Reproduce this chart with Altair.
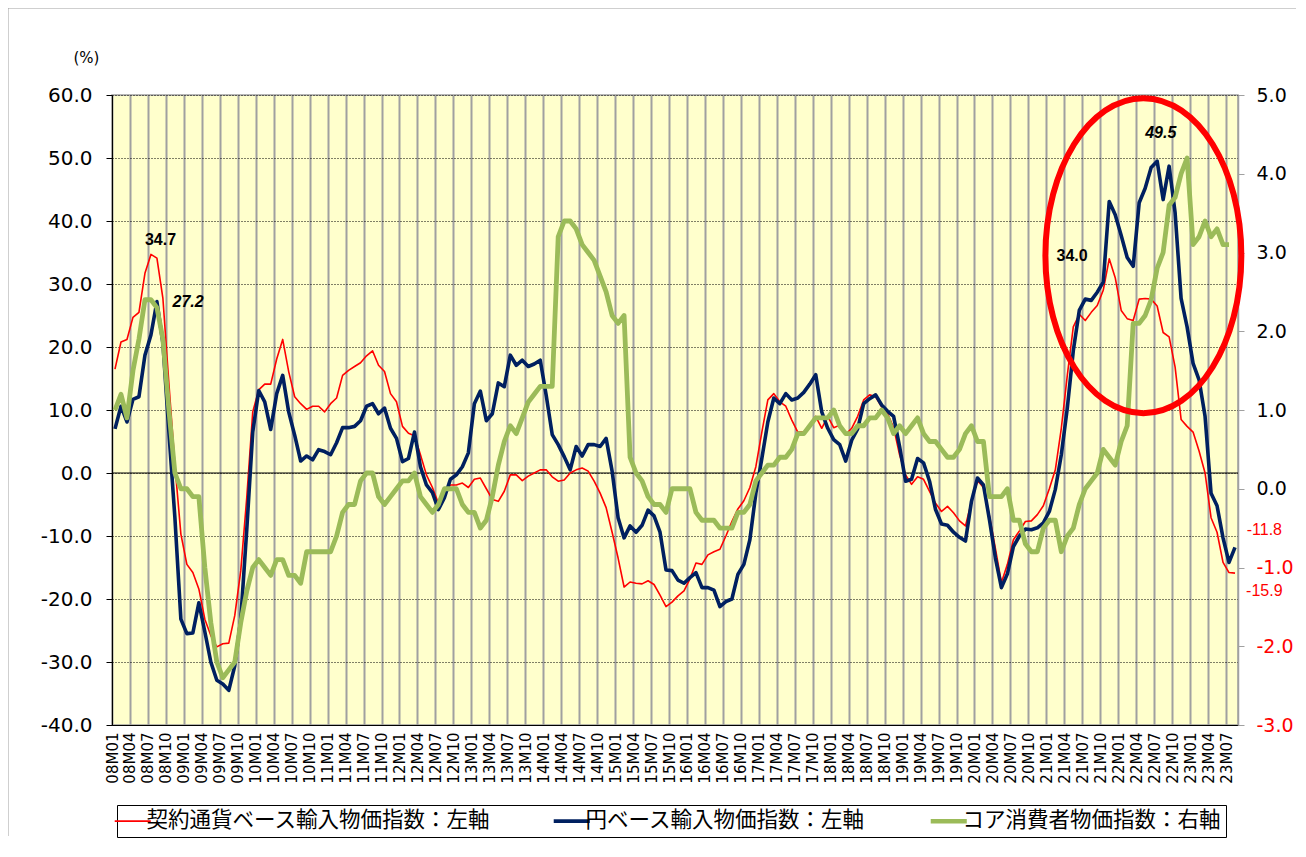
import altair as alt
import pandas as pd

NAMES = ["契約通貨ベース輸入物価指数：左軸", "円ベース輸入物価指数：左軸", "コア消費者物価指数：右軸"]
COLORS = ["#FF0000", "#002060", "#9BBB59"]

# x-axis tick labels (every 3 months, 2008M01 .. 2023M07)
TICK_LABELS = [f"{y:02d}M{m:02d}" for y in range(8, 24) for m in (1, 4, 7, 10)][:63]

# 契約通貨ベース輸入物価指数 (YoY %, left axis), 2008M01 .. 2023M08
RED = [
    16.5, 20.8, 21.2, 24.7, 25.5, 31.7, 34.7, 34.1, 27.7, 14.2,
    1.3, -9.7, -14.5, -15.8, -18.4, -23.2, -25.8, -27.6, -27.1, -27.0,
    -22.6, -15.5, -3.9, 9.7, 13.2, 14.1, 14.1, 18.1, 21.2, 16.1,
    12.1, 11.0, 10.1, 10.6, 10.6, 9.7, 11.0, 11.9, 15.5, 16.3,
    16.9, 17.5, 18.6, 19.4, 17.1, 16.1, 12.6, 11.3, 7.4, 6.3,
    5.9, 2.9, -0.3, -2.3, -4.8, -3.2, -1.9, -1.9, -1.6, -2.3,
    -1.0, -0.8, -2.5, -4.2, -4.5, -2.9, -0.3, -0.3, -1.2, -0.5,
    0.0, 0.5, 0.5, -0.6, -1.3, -1.1, 0.0, 0.5, 0.8, 0.3,
    -1.3, -3.2, -5.5, -9.4, -13.5, -18.1, -17.3, -17.5, -17.6, -17.1,
    -17.7, -19.4, -21.2, -20.5, -19.5, -18.7, -16.8, -14.3, -14.5, -13.0,
    -12.5, -12.1, -10.0, -7.7, -5.7, -4.4, -2.3, 1.0, 6.5, 11.6,
    12.6, 11.3, 10.6, 8.4, 6.5, 6.5, 7.7, 9.0, 7.1, 9.0,
    7.2, 7.6, 6.1, 7.1, 9.0, 11.6, 12.4, 12.1, 10.5, 9.4,
    7.2, 2.9, -0.3, -1.8, -0.6, -1.0, -2.9, -4.8, -6.1, -5.3,
    -6.3, -7.6, -8.4, -4.5, -1.2, -2.3, -6.8, -12.0, -17.4, -14.5,
    -10.6, -9.2, -7.7, -7.6, -6.6, -5.2, -2.5, 0.5, 7.1, 15.5,
    23.2, 25.2, 24.2, 25.5, 26.6, 29.0, 34.0, 31.0, 25.8, 24.5,
    24.2, 27.6, 27.7, 27.6, 26.5, 22.3, 21.6, 16.8, 8.5, 7.4,
    6.5, 3.5, 0.0, -7.1, -9.4, -14.2, -15.8, -15.9,
]

# 円ベース輸入物価指数 (YoY %, left axis), 2008M01 .. 2023M08
BLUE = [
    7.0, 10.6, 8.1, 11.7, 12.1, 18.7, 21.9, 27.2, 20.6, 6.5,
    -7.1, -23.2, -25.5, -25.4, -20.6, -25.2, -30.0, -32.9, -33.5, -34.5,
    -30.6, -23.2, -9.0, 6.5, 13.1, 11.3, 6.9, 12.6, 15.5, 9.7,
    6.0, 1.9, 2.7, 2.1, 3.7, 3.4, 2.9, 4.8, 7.2, 7.2,
    7.4, 8.3, 10.6, 11.0, 9.4, 10.3, 7.1, 5.5, 1.8, 2.3,
    6.5, 1.0, -1.9, -3.1, -5.8, -3.9, -1.0, -0.3, 1.0, 3.2,
    11.0, 13.0, 8.3, 9.4, 14.3, 13.7, 18.7, 17.1, 17.9, 16.9,
    17.3, 17.9, 12.3, 6.1, 4.5, 2.6, 0.5, 4.2, 2.7, 4.5,
    4.5, 4.2, 5.5, 0.3, -7.1, -10.3, -8.4, -9.4, -8.3, -5.9,
    -6.8, -9.4, -15.4, -15.5, -17.0, -17.5, -16.6, -15.8, -18.2, -18.2,
    -18.6, -21.2, -20.4, -20.0, -16.1, -14.5, -10.6, -3.2, 2.3, 8.1,
    11.9, 11.0, 12.6, 11.6, 11.9, 12.8, 14.1, 15.6, 9.7, 7.1,
    5.3, 4.5, 1.9, 5.2, 7.0, 11.0, 11.8, 12.4, 10.8, 9.8,
    9.0, 4.2, -1.3, -1.0, 2.3, 1.6, -1.3, -5.8, -8.1, -8.3,
    -9.4, -10.2, -10.8, -4.5, -0.8, -1.9, -7.4, -13.5, -18.2, -16.0,
    -11.7, -10.0, -8.9, -9.0, -8.7, -7.9, -6.1, -2.6, 2.9, 10.3,
    19.4, 25.8, 27.6, 27.4, 28.7, 30.3, 43.1, 41.0, 37.7, 34.2,
    32.8, 42.9, 45.2, 48.5, 49.5, 43.4, 48.7, 41.3, 27.7, 23.2,
    17.4, 14.8, 9.0, -3.2, -5.2, -10.3, -14.2, -11.8,
]

# コア消費者物価指数 (YoY %, right axis), as plotted (ends one month earlier)
GREEN = [
    1.0, 1.2, 0.9, 1.5, 1.9, 2.4, 2.4, 2.3, 1.9, 1.0,
    0.2, 0.0, 0.0, -0.1, -0.1, -1.0, -1.7, -2.2, -2.4, -2.3,
    -2.2, -1.7, -1.3, -1.0, -0.9, -1.0, -1.1, -0.9, -0.9, -1.1,
    -1.1, -1.2, -0.8, -0.8, -0.8, -0.8, -0.8, -0.6, -0.3, -0.2,
    -0.2, 0.1, 0.2, 0.2, -0.1, -0.2, -0.1, 0.0, 0.1, 0.1,
    0.2, -0.1, -0.2, -0.3, -0.2, 0.0, 0.0, 0.0, -0.2, -0.3,
    -0.3, -0.5, -0.4, -0.1, 0.3, 0.6, 0.8, 0.7, 0.9, 1.1,
    1.2, 1.3, 1.3, 1.3, 3.2, 3.4, 3.4, 3.3, 3.1, 3.0,
    2.9, 2.7, 2.5, 2.2, 2.1, 2.2, 0.4, 0.2, 0.1, -0.1,
    -0.2, -0.2, -0.3, 0.0, 0.0, 0.0, 0.0, -0.3, -0.4, -0.4,
    -0.4, -0.5, -0.5, -0.5, -0.3, -0.3, -0.2, 0.1, 0.2, 0.3,
    0.3, 0.4, 0.4, 0.5, 0.7, 0.7, 0.8, 0.9, 0.9, 0.9,
    1.0, 0.8, 0.7, 0.7, 0.8, 0.8, 0.9, 0.9, 1.0, 0.9,
    0.7, 0.8, 0.7, 0.8, 0.9, 0.7, 0.6, 0.6, 0.5, 0.4,
    0.4, 0.5, 0.7, 0.8, 0.6, 0.6, -0.1, -0.1, -0.1, 0.0,
    -0.4, -0.4, -0.7, -0.8, -0.8, -0.5, -0.4, -0.4, -0.8, -0.6,
    -0.5, -0.2, 0.0, 0.1, 0.2, 0.5, 0.4, 0.3, 0.6, 0.8,
    2.1, 2.1, 2.2, 2.4, 2.8, 3.0, 3.6, 3.7, 4.0, 4.2,
    3.1, 3.2, 3.4, 3.2, 3.3, 3.1, 3.1,
]

N_MONTHS = 188


def frame(values, name):
    return pd.DataFrame({"x": [i + 0.5 for i in range(len(values))],
                         "v": values, "s": [name] * len(values)})


df_red = frame(RED, NAMES[0])
df_blue = frame(BLUE, NAMES[1])
df_green = frame(GREEN, NAMES[2])

FONT = "Liberation Sans"
AXFONT = "DejaVu Sans"
label_array = "[" + ",".join(f"'{t}'" for t in TICK_LABELS) + "]"

xscale = alt.Scale(domain=[0, N_MONTHS], nice=False, zero=False)
xaxis = alt.Axis(values=list(range(0, 187, 3)), labelExpr=f"{label_array}[datum.value / 3]",
                 title=None, grid=True, gridColor="#A0A0A0", gridWidth=2, ticks=False,
                 labelAngle=270, labelPadding=7, labelFontSize=15, labelFont=AXFONT,
                 labelColor="#000000", labelOverlap=False, labelFlush=False,
                 domainColor="#000000", domainWidth=1.2)

yl_scale = alt.Scale(domain=[-40, 60], nice=False, zero=False)
yr_scale = alt.Scale(domain=[-3, 5], nice=False, zero=False)
fmt = "replace(format(datum.value, '.1f'), '\u2212', '-')"

yaxis_left = alt.Axis(values=list(range(-40, 61, 10)), labelExpr=fmt, title="(%)",
                      titleAngle=0, titleX=-26, titleY=-38, titleAlign="center",
                      titleBaseline="middle", titleFontSize=15, titleFontWeight="normal",
                      titleFont=AXFONT, titleColor="#000000",
                      grid=True, gridColor="#000000", gridDash=[1, 2], gridWidth=1,
                      tickSize=6, tickColor="#000000", domainColor="#000000",
                      labelFontSize=20, labelPadding=14, labelFont=AXFONT, labelColor="#000000")

yaxis_right = alt.Axis(orient="right", values=list(range(-3, 6)), labelExpr=fmt, title=None,
                       grid=False, tickSize=6, tickColor="#A0A0A0", domainColor="#A0A0A0",
                       domainWidth=1.5, labelFontSize=19, labelPadding=12, labelFont=AXFONT,
                       labelColor={"condition": {"test": "datum.value < 0", "value": "#FF0000"},
                                   "value": "#000000"})

width_expr = (f"datum.value == '{NAMES[0]}' ? 1.8 : (datum.value == '{NAMES[1]}' ? 3.6 : 4.5)")
legend = alt.Legend(title=None, orient="none", legendX=5, legendY=710, direction="horizontal",
                    labelFont="Noto Sans CJK JP", labelFontSize=21.5, labelColor="#000000",
                    symbolType="stroke", symbolSize=1300, columnPadding=55, labelLimit=800,
                    labelOffset=3, padding=5, strokeColor="#000000", fillColor="#FFFFFF",
                    symbolStrokeWidth={"expr": width_expr})

color = alt.Color("s:N", scale=alt.Scale(domain=NAMES, range=COLORS), legend=legend)
X = alt.X("x:Q", scale=xscale, axis=xaxis)

zero = alt.Chart(pd.DataFrame({"v": [0]})).mark_rule(color="#000000", strokeWidth=1).encode(
    y=alt.Y("v:Q", scale=yl_scale, axis=yaxis_left))

red_line = alt.Chart(df_red).mark_line(strokeWidth=1.6, strokeJoin="round").encode(
    x=X, y=alt.Y("v:Q", scale=yl_scale, axis=yaxis_left), color=color)
blue_line = alt.Chart(df_blue).mark_line(strokeWidth=3.6, strokeJoin="round").encode(
    x=X, y=alt.Y("v:Q", scale=yl_scale, axis=yaxis_left), color=color)
left = alt.layer(zero, red_line, blue_line)

green_line = alt.Chart(df_green).mark_line(strokeWidth=4.8, strokeJoin="round").encode(
    x=X, y=alt.Y("v:Q", scale=yr_scale, axis=yaxis_right), color=color)

# annotations
df_tb = pd.DataFrame({"x": [8.1, 160.3], "y": [37.0, 34.4], "t": [f"{RED[6]:.1f}", f"{RED[166]:.1f}"]})
df_ti = pd.DataFrame({"x": [12.7, 175.1], "y": [27.1, 54.0], "t": [f"{BLUE[7]:.1f}", f"{BLUE[174]:.1f}"]})
df_tr = pd.DataFrame({"x": [192.4, 192.4], "y": [-9.05, -18.7], "t": [f"{BLUE[-1]:.1f}", f"{RED[-1]:.1f}"]})

YA = alt.Y("y:Q", scale=yl_scale, axis=None)
txt_b = alt.Chart(df_tb).mark_text(font=FONT, fontSize=16, fontWeight="bold", color="#000000").encode(
    x=X, y=YA, text="t:N")
txt_i = alt.Chart(df_ti).mark_text(font=FONT, fontSize=16, fontWeight="bold", fontStyle="italic",
                                   color="#000000").encode(x=X, y=YA, text="t:N")
txt_r = alt.Chart(df_tr).mark_text(font=FONT, fontSize=16, color="#FF0000").encode(
    x=X, y=YA, text="t:N")

ELLIPSE = "M -0.622 0 A 0.622 1 0 1 0 0.622 0 A 0.622 1 0 1 0 -0.622 0 Z"
ellipse = alt.Chart(pd.DataFrame({"x": [172.2], "y": [34.5]})).mark_point(
    shape=ELLIPSE, size=99225, filled=False, color="#FF0000", strokeWidth=6, opacity=1).encode(
    x=X, y=YA)

# thin chart-area frame (top and left edges), decoration only
frame_top = alt.Chart(pd.DataFrame({"k": [0]})).mark_rule(color="#A0A0A0", strokeWidth=1).encode(
    x=alt.value(-104), x2=alt.value(1184), y=alt.value(-87))
frame_left = alt.Chart(pd.DataFrame({"k": [0]})).mark_rule(color="#A0A0A0", strokeWidth=1).encode(
    x=alt.value(-104), y=alt.value(-87), y2=alt.value(741))

annot = alt.layer(txt_b, txt_i, txt_r, ellipse, frame_top, frame_left)

chart = alt.layer(left, green_line, annot).resolve_scale(y="independent").properties(
    width=1126, height=630,
    padding={"left": 104, "top": 87, "right": 58, "bottom": 119},
    autosize=alt.AutoSizeParams(type="none"),
    background="#FFFFFF",
).configure_view(fill="#FFFFCC", stroke="#A0A0A0", strokeWidth=1.5)

chart.save("out.html", embed_options={"renderer": "svg", "actions": False})
